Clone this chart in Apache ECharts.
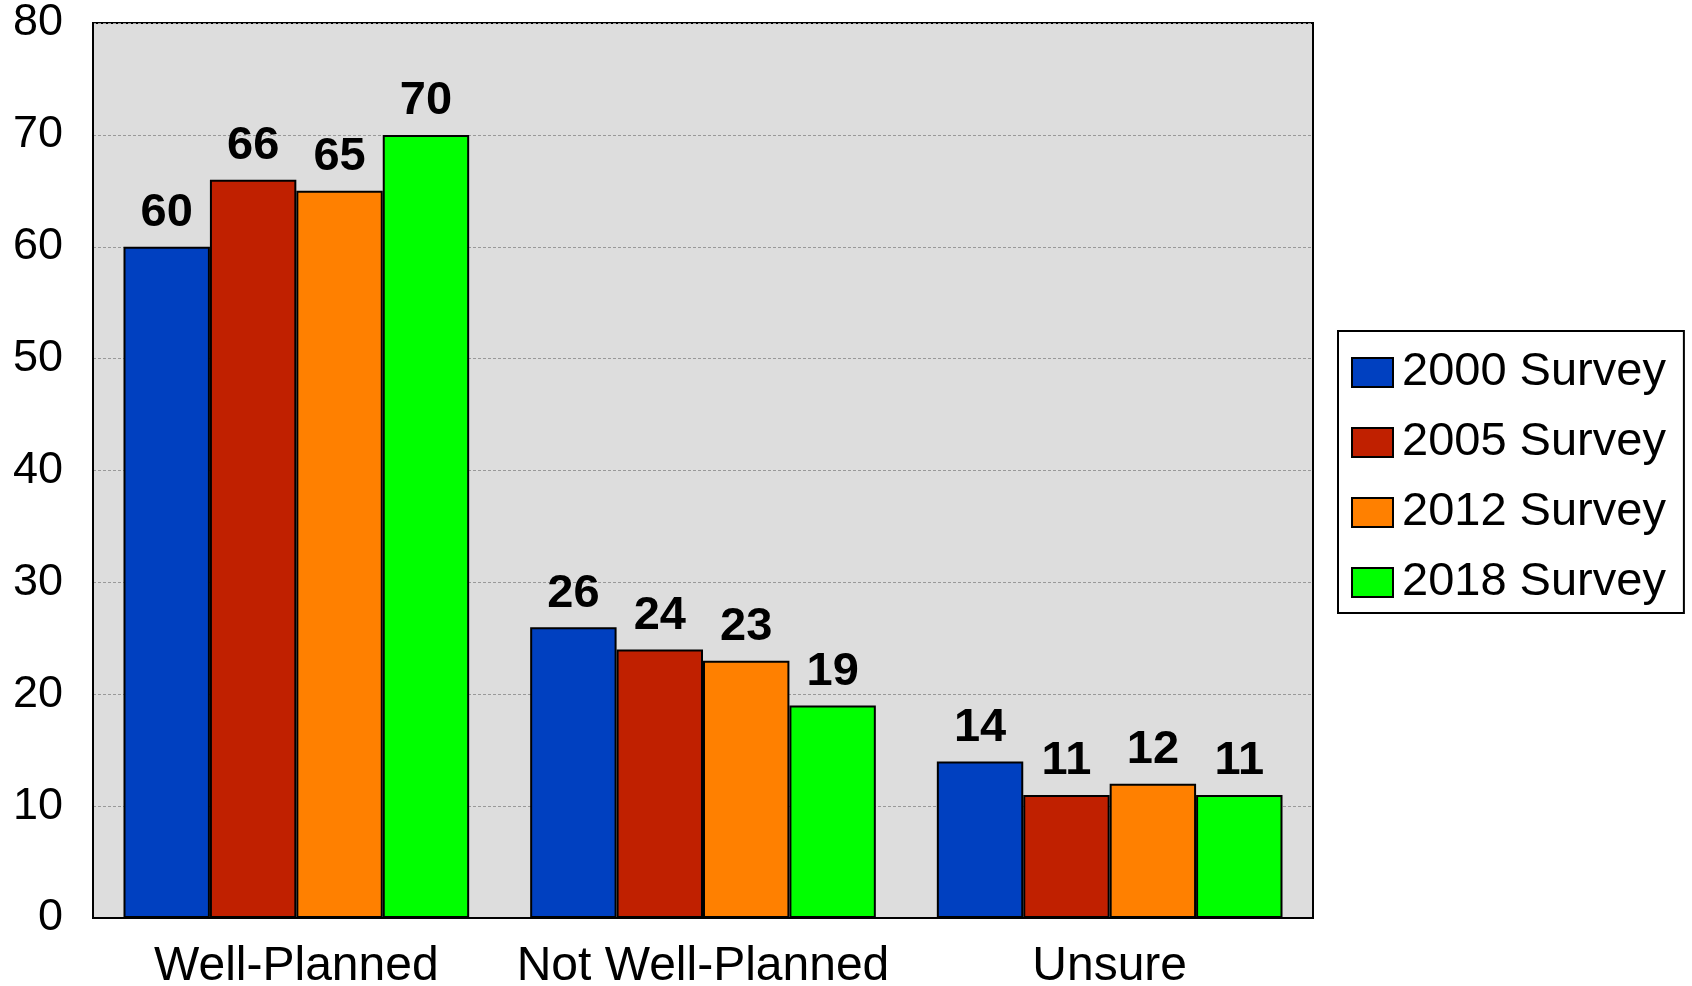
<!DOCTYPE html>
<html>
<head>
<meta charset="utf-8">
<script src="https://cdn.jsdelivr.net/npm/echarts@6/dist/echarts.min.js"></script>
<style>
  html, body { margin: 0; padding: 0; background: #ffffff; }
  #chart { width: 1692px; height: 986px; }
</style>
</head>
<body>
<div id="chart"></div>
<script>
// Survey responses by category
const categories = ['Well-Planned', 'Not Well-Planned', 'Unsure'];
const seriesNames = ['2000 Survey', '2005 Survey', '2012 Survey', '2018 Survey'];
const survey2000 = [60, 26, 14];
const survey2005 = [66, 24, 11];
const survey2012 = [65, 23, 12];
const survey2018 = [70, 19, 11];
const seriesColors = ['#0040C0', '#C02000', '#FF8000', '#00FF00'];
const yTicks = [0, 10, 20, 30, 40, 50, 60, 70, 80];

const seriesValues = [survey2000, survey2005, survey2012, survey2018];
const FONT = 'Liberation Sans, Arial, sans-serif';

const chart = echarts.init(document.getElementById('chart'), null, { renderer: 'canvas' });

const series = seriesNames.map((name, i) => ({
  name: name,
  type: 'bar',
  data: seriesValues[i],
  barGap: '0%',
  barCategoryGap: '15%',
  itemStyle: { color: seriesColors[i], borderColor: '#000000', borderWidth: 2 },
  label: {
    show: true,
    position: 'top',
    distance: 10,
    fontFamily: FONT,
    fontWeight: 'bold',
    fontSize: 47,
    color: '#000000'
  },
  emphasis: { disabled: true }
}));

chart.setOption({
  animation: false,
  backgroundColor: '#ffffff',
  grid: {
    left: 93, top: 23, width: 1220, height: 895,
    outerBoundsMode: 'none',
    containLabel: false,
    show: true, backgroundColor: '#dddddd',
    borderColor: '#000000', borderWidth: 2
  },
  legend: {
    orient: 'vertical',
    left: 1338, top: 331,
    data: seriesNames,
    backgroundColor: '#ffffff',
    borderColor: '#000000', borderWidth: 2,
    borderRadius: 0,
    padding: [18, 18, 7, 13],
    itemWidth: 41, itemHeight: 29, itemGap: 23,
    icon: 'rect',
    textStyle: { fontFamily: FONT, fontSize: 47, color: '#000000', padding: [0, 0, 0, 4] }
  },
  xAxis: {
    type: 'category',
    data: categories,
    axisLine: { lineStyle: { color: '#000000', width: 2 } },
    axisTick: { show: false },
    axisLabel: { fontFamily: FONT, fontSize: 48, color: '#000000', margin: 25, interval: 0 }
  },
  yAxis: {
    type: 'value',
    min: yTicks[0], max: yTicks[yTicks.length - 1], interval: 10,
    axisLine: { show: true, lineStyle: { color: '#000000', width: 2 } },
    axisTick: { show: false },
    axisLabel: { fontFamily: FONT, fontSize: 45, color: '#000000', margin: 30 },
    splitLine: { show: true, lineStyle: { color: '#999999', width: 1, type: [3, 2] } }
  },
  series: series
});
</script>
</body>
</html>
